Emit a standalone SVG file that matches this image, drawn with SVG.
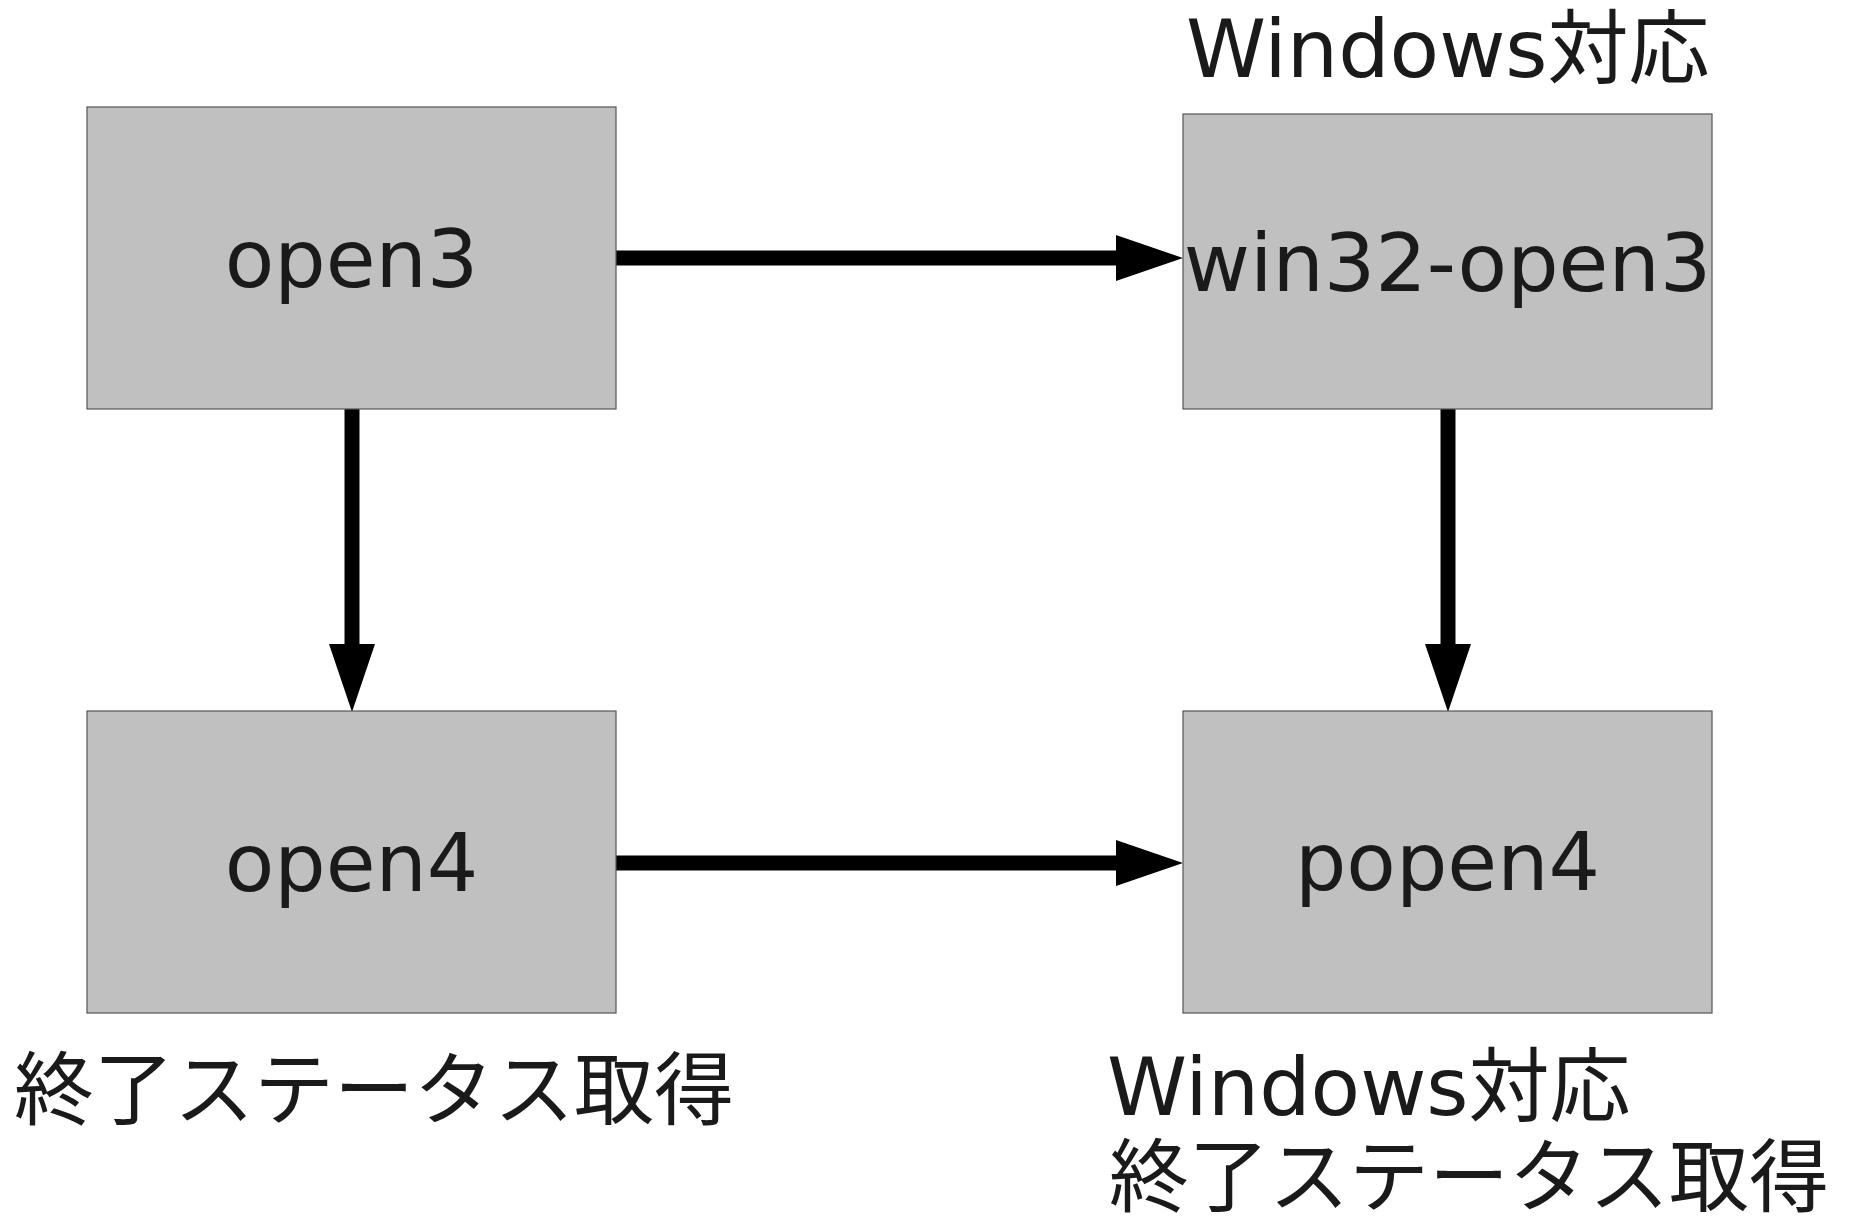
<svg xmlns="http://www.w3.org/2000/svg" width="1850" height="1216" viewBox="0 0 1850 1216">
  <defs>
    <style>
      .box { fill: #c0c0c0; stroke: #555555; stroke-width: 1.2; }
      .label { font-family: "DejaVu Sans", "Noto Sans CJK JP", sans-serif; font-size: 81px; fill: #1a1a1a; }
      .mid { text-anchor: middle; }
      .note { font-family: "DejaVu Sans", "Noto Sans CJK JP", sans-serif; font-size: 81px; fill: #1a1a1a; }
      .jp { font-family: "Noto Sans CJK JP", sans-serif; font-size: 80px; fill: #1a1a1a; }
      .edge { stroke: #000000; stroke-width: 15; fill: none; }
      .head { fill: #000000; }
    </style>
  </defs>
  <rect width="1850" height="1216" fill="#ffffff"/>

  <!-- connectors -->
  <g id="connectors">
    <line class="edge" x1="616" y1="258" x2="1120" y2="258"/>
    <polygon class="head" points="1116,235 1183,258 1116,281"/>
    <line class="edge" x1="352" y1="409" x2="352" y2="648"/>
    <polygon class="head" points="329,644 375,644 352,712"/>
    <line class="edge" x1="1448" y1="409" x2="1448" y2="648"/>
    <polygon class="head" points="1425,644 1471,644 1448,712"/>
    <line class="edge" x1="616" y1="863" x2="1120" y2="863"/>
    <polygon class="head" points="1116,840 1183,863 1116,886"/>
  </g>

  <g id="node-open3">
    <rect class="box" x="87" y="107" width="529" height="302"/>
    <text class="label mid" x="351.5" y="287">open3</text>
  </g>

  <g id="node-win32-open3">
    <rect class="box" x="1183" y="114" width="529" height="295"/>
    <text class="label mid" x="1447.5" y="291">win32-open3</text>
    <text class="note" x="1186" y="77">Windows対応</text>
  </g>

  <g id="node-open4">
    <rect class="box" x="87" y="711" width="529" height="302"/>
    <text class="label mid" x="351.5" y="891">open4</text>
    <text class="jp" x="14" y="1118">終了ステータス取得</text>
  </g>

  <g id="node-popen4">
    <rect class="box" x="1183" y="711" width="529" height="302"/>
    <text class="label mid" x="1447.5" y="890">popen4</text>
    <text class="note" x="1107" y="1115">Windows対応</text>
    <text class="jp" x="1109" y="1205">終了ステータス取得</text>
  </g>
</svg>
